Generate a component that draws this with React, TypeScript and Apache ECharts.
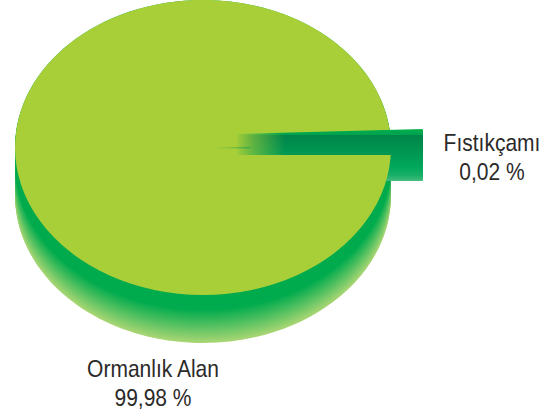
import React, { useEffect, useRef } from "react";
import * as echarts from "echarts";

const categories = ["Ormanlık Alan", "Fıstıkçamı"];
const shares = [99.98, 0.02];
const shareLabels = ["99,98 %", "0,02 %"];

const W = 558;
const H = 417;
const CX = 203;
const CY = 147.5;
const RX = 188;
const RY = 147.5;
const DEPTH = 48;
const BAND = 15;
const LIME = "#A8CF38";
const TEXT = "#2B2A29";
const FONT = '"Liberation Sans", sans-serif';

function mix(a: number[], b: number[], t: number) {
  return `rgb(${a.map((v, i) => Math.round(v + (b[i] - v) * t)).join(",")})`;
}

function label(name: string, share: string, x: number, y: number) {
  return [name, share].map((t, i) => ({
    type: "text",
    z2: 10,
    x,
    y: y + i * 29,
    scaleX: 0.875,
    style: {
      text: t,
      x: 0,
      y: 0,
      fill: TEXT,
      font: `24px ${FONT}`,
      align: "center",
      verticalAlign: "middle",
    },
  }));
}

function renderItem(params: any, api: any) {
  const value = api.value(0);
  const total = shares.reduce((a, b) => a + b, 0);
  const sweep = (value / total) * Math.PI * 2;
  if (params.dataIndex === 0) {
    const children: any[] = [];
    for (let d = DEPTH; d >= 0; d--) {
      const t = d <= BAND ? 0 : (d - BAND) / (DEPTH - BAND);
      children.push({
        type: "ellipse",
        z2: 1,
        shape: { cx: CX, cy: CY + d, rx: RX, ry: RY },
        style: { fill: mix([0, 171, 78], [168, 214, 116], t) },
      });
    }
    children.push({
      type: "group",
      x: CX,
      y: CY,
      scaleY: RY / RX,
      children: [
        {
          type: "sector",
          z2: 3,
          shape: {
            cx: 0,
            cy: 0,
            r0: 0,
            r: RX,
            startAngle: 0,
            endAngle: sweep,
            clockwise: true,
          },
          style: { fill: LIME },
        },
      ],
    });
    children.push(...label(categories[0], shareLabels[0], 153, 369));
    return { type: "group", children };
  }
  const faceFill = new echarts.graphic.LinearGradient(
    0, 135, 0, 181,
    [
      { offset: 0, color: "#00854A" },
      { offset: 0.45, color: "#009A53" },
      { offset: 0.7, color: "#00A85C" },
      { offset: 0.88, color: "#1AB068" },
      { offset: 1, color: "#45BD80" },
    ],
    true
  );
  const stripeFill = new echarts.graphic.LinearGradient(
    0, 129, 0, 135,
    [
      { offset: 0, color: "#1AB24F" },
      { offset: 0.3, color: "#00AB4E" },
      { offset: 1, color: "#00A14D" },
    ],
    true
  );
  const fade = new echarts.graphic.LinearGradient(
    237, 0, 285, 0,
    [
      { offset: 0, color: "rgba(168,207,56,0.95)" },
      { offset: 0.35, color: "rgba(168,207,56,0.55)" },
      { offset: 1, color: "rgba(168,207,56,0)" },
    ],
    true
  );
  const streak = new echarts.graphic.LinearGradient(
    205, 0, 250, 0,
    [
      { offset: 0, color: "rgba(60,180,75,0)" },
      { offset: 1, color: "rgba(60,170,75,0.9)" },
    ],
    true
  );
  const children: any[] = [
    {
      type: "rect",
      z2: 2,
      shape: { x: 370, y: 134, width: 53, height: 47, r: [0, 0, 1, 1] },
      style: { fill: faceFill },
    },
    {
      type: "polygon",
      z2: 4,
      shape: { points: [[237, 134], [422, 129], [423, 130], [423, 135], [237, 135]] },
      style: { fill: stripeFill },
    },
    {
      type: "rect",
      z2: 4,
      shape: { x: 237, y: 135, width: 155, height: 20 },
      style: { fill: faceFill },
    },
    {
      type: "rect",
      z2: 5,
      shape: { x: 237, y: 133, width: 48, height: 23 },
      style: { fill: fade },
    },
    {
      type: "polygon",
      z2: 6,
      shape: { points: [[205, 148], [250, 146.8], [250, 148.6]] },
      style: { fill: streak },
    },
    ...label(categories[1], shareLabels[1], 492, 143),
  ];
  return { type: "group", children };
}

export default function App() {
  const ref = useRef<HTMLDivElement>(null);
  useEffect(() => {
    const chart = echarts.init(ref.current!, undefined, { renderer: "svg" });
    chart.setOption({
      animation: false,
      backgroundColor: "#FFFFFF",
      series: [
        {
          type: "custom",
          coordinateSystem: "none",
          silent: true,
          clip: false,
          renderItem,
          data: categories.map((name, i) => ({ name, value: [shares[i]] })),
        },
      ],
    });
    return () => chart.dispose();
  }, []);
  return (
    <div
      ref={ref}
      style={{ position: "absolute", left: 0, top: 0, width: W, height: H }}
    />
  );
}
